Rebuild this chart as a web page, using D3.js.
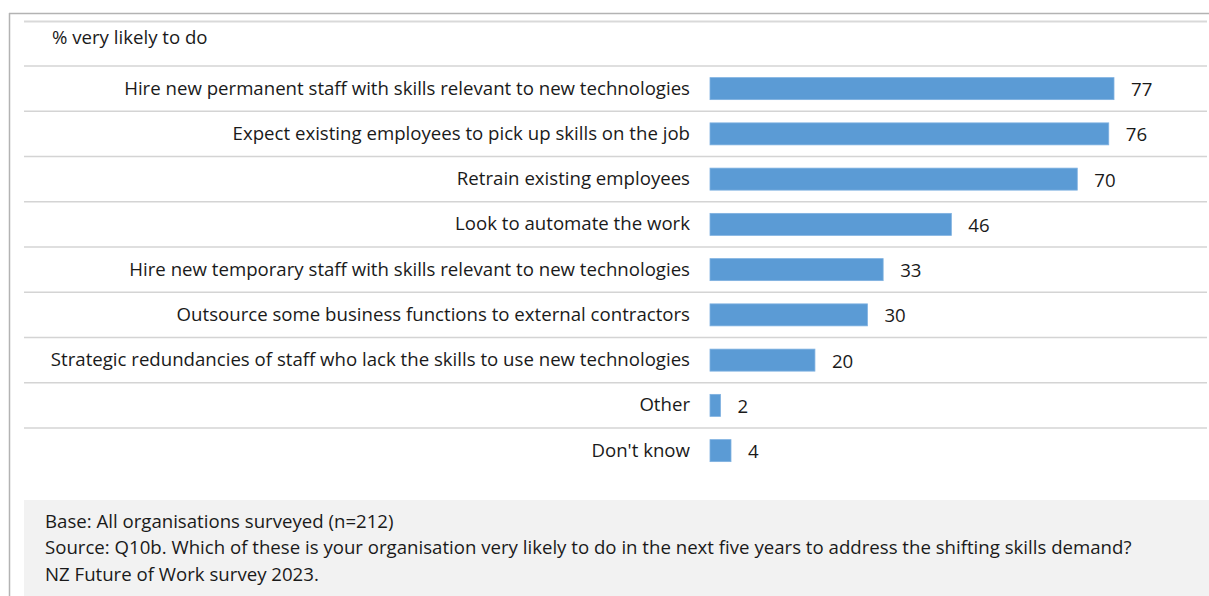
<!DOCTYPE html>
<html>
<head>
<meta charset="utf-8">
<script src="https://cdn.jsdelivr.net/npm/d3@7"></script>
<style>
  html, body { margin: 0; padding: 0; background: #ffffff; }
  svg { display: block; }
  text { font-family: "Open Sans", sans-serif; fill: #1a1a1a; }
</style>
</head>
<body>
<svg id="chart" width="1209" height="596"></svg>
<script>
// Survey responses: share of organisations very likely to take each action
const categories = [
  "Hire new permanent staff with skills relevant to new technologies",
  "Expect existing employees to pick up skills on the job",
  "Retrain existing employees",
  "Look to automate the work",
  "Hire new temporary staff with skills relevant to new technologies",
  "Outsource some business functions to external contractors",
  "Strategic redundancies of staff who lack the skills to use new technologies",
  "Other",
  "Don't know"
];
const values = [77, 76, 70, 46, 33, 30, 20, 2, 4];

const measureLabel = "% very likely to do";
const notes = [
  "Base: All organisations surveyed (n=212)",
  "Source: Q10b. Which of these is your organisation very likely to do in the next five years to address the shifting skills demand?",
  "NZ Future of Work survey 2023."
];

const W = 1209, H = 596;
const svg = d3.select("#chart");

// Pick a font size so the longest category label spans the label column
const probe = svg.append("text").style("font-size", "16px").text(categories[6]);
const fontSize = 16 * 640 / probe.node().getComputedTextLength();
probe.remove();
const fs = fontSize + "px";

// Frame around the figure
svg.append("line").attr("x1", 9).attr("x2", W).attr("y1", 13.5).attr("y2", 13.5)
  .attr("stroke", "#b3b3b3").attr("stroke-width", 1.5);
svg.append("line").attr("x1", 9.5).attr("x2", 9.5).attr("y1", 13).attr("y2", H)
  .attr("stroke", "#b3b3b3").attr("stroke-width", 1.5);
svg.append("line").attr("x1", 24).attr("x2", 1207).attr("y1", 21.5).attr("y2", 21.5)
  .attr("stroke", "#d9d9d9").attr("stroke-width", 2);

svg.append("text").attr("x", 52).attr("y", 37).attr("dy", "0.35em")
  .style("font-size", fs).text(measureLabel);

// Scales
const x = d3.scaleLinear().domain([0, 77]).range([710, 1114]);
const rows = d3.scaleBand().domain(categories).range([66, 66 + 45.25 * categories.length]);

// Row separators
svg.append("g").selectAll("line").data(categories).join("line")
  .attr("x1", 24).attr("x2", 1207)
  .attr("y1", d => rows(d)).attr("y2", d => rows(d))
  .attr("stroke", "#d4d4d4").attr("stroke-width", 1.5);

const data = categories.map((c, i) => ({ c, v: values[i] }));

// Bars
svg.append("g").selectAll("rect").data(data).join("rect")
  .attr("x", x(0))
  .attr("y", d => rows(d.c) + rows.bandwidth() / 2 - 11)
  .attr("width", d => x(d.v) - x(0))
  .attr("height", 22)
  .attr("fill", "#5b9bd5")
  .attr("stroke", "#7fb1e0").attr("stroke-width", 0.8);

// Category labels
svg.append("g").selectAll("text").data(data).join("text")
  .attr("x", 690)
  .attr("y", d => rows(d.c) + rows.bandwidth() / 2 - 0.5)
  .attr("dy", "0.35em")
  .attr("text-anchor", "end")
  .style("font-size", fs)
  .text(d => d.c);

// Value labels
svg.append("g").selectAll("text").data(data).join("text")
  .attr("x", d => x(d.v) + 17)
  .attr("y", d => rows(d.c) + rows.bandwidth() / 2 + 1)
  .attr("dy", "0.35em")
  .style("font-size", fs)
  .text(d => d.v);

// Notes panel
svg.append("rect").attr("x", 24).attr("y", 500).attr("width", W - 24).attr("height", H - 500)
  .attr("fill", "#f2f2f2");
svg.append("g").selectAll("text").data(notes).join("text")
  .attr("x", 45)
  .attr("y", (d, i) => 521 + i * 26.5)
  .attr("dy", "0.35em")
  .style("font-size", fs)
  .text(d => d);
</script>
</body>
</html>
